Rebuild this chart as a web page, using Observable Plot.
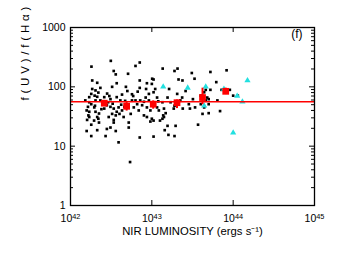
<!DOCTYPE html>
<html>
<head>
<meta charset="utf-8">
<script src="https://cdn.jsdelivr.net/npm/d3@7"></script>
<script src="https://cdn.jsdelivr.net/npm/@observablehq/plot@0.6"></script>
<style>
  html, body { margin: 0; padding: 0; background: #fff; }
  #chart { width: 349px; height: 257px; }
</style>
</head>
<body>
<div id="chart"></div>
<script>
// ---- data ----
const blackLum = [
  1.81e42, 3.13e42, 6.3e42, 7.1e42, 3.4e42, 3.6e42, 5.1e42, 1.85e42, 2.13e42, 1.36e43,
  1.9e43, 2.07e43, 2.13e43, 2.38e43, 3.1e43, 3.35e43, 5.25e43, 6.2e43, 8.3e43, 1.01e43,
  1.05e43, 7.1e42, 8.7e42, 7.1e42, 8.5e42, 3.25e42, 4.8e42, 5.0e42, 3.7e42, 5.7e42,
  2.33e42, 1.85e42, 2.03e42, 1.8e42, 1.98e42, 2.13e42, 1.7e42, 2.82e42, 2.6e42, 3.1e42,
  3.7e42, 4.3e42, 4.1e42, 2.33e42, 2.03e42, 1.7e42, 1.52e42, 1.8e42, 1.64e42, 1.96e42,
  1.58e42, 1.7e42, 2.03e42, 2.24e42, 1.66e42, 2.13e42, 1.6e42, 1.95e42, 2.24e42, 1.8e42,
  1.58e42, 2.13e42, 1.8e42, 2.7e42, 2.8e42, 2.6e42, 3.1e42, 3.4e42, 3.25e42, 2.95e42,
  3.4e42, 3.6e42, 3.7e42, 3.9e42, 4.2e42, 4.3e42, 4.0e42, 4.5e42, 3.4e42, 3.1e42,
  3.6e42, 2.8e42, 3.9e42, 5.2e42, 5.2e42, 5.5e42, 6.0e42, 6.3e42, 5.7e42, 6.6e42,
  7.2e42, 6.9e42, 7.6e42, 8.0e42, 8.7e42, 7.1e42, 5.4e42, 8.4e42, 9.2e42, 8.7e42,
  9.6e42, 1.05e43, 9.2e42, 1.05e43, 1.0e43, 1.1e43, 1.16e43, 1.16e43, 1.22e43, 1.0e43,
  1.05e43, 9.6e42, 1.05e43, 1.35e43, 1.41e43, 1.38e43, 1.35e43, 1.41e43, 1.48e43, 1.56e43,
  1.63e43, 1.56e43, 1.44e43, 1.6e43, 1.9e43, 1.96e43, 1.7e43, 1.86e43, 2.05e43, 2.24e43,
  2.36e43, 2.4e43, 2.6e43, 2.85e43, 2.94e43, 3.2e43, 3.4e43, 3.7e43, 4.0e43, 4.0e43,
  4.2e43, 4.4e43, 4.6e43, 4.8e43, 5.0e43, 5.0e43, 5.0e43, 4.4e43, 4.6e43, 5.25e43,
  6.4e43, 6.9e43, 7.2e43, 9.1e43, 1.0e44, 1.14e44, 1.26e43, 2.2e42, 2.5e42, 2.9e42,
  3.0e42, 2.4e42, 2.0e42, 4.6e42, 4.7e42, 5.9e42, 6.7e42, 2.2e42, 1.7e42, 8.0e42,
  3.3e42, 1.9e43, 1.2e43
];
const blackRatio = [
  219, 274, 225, 257, 185, 162, 166, 128, 117, 203,
  185, 203, 133, 128, 171, 137, 178, 120, 190, 137,
  133, 128, 115, 96, 92, 100, 100, 85, 115, 75,
  96, 92, 87, 76, 71, 68, 67, 77, 67, 62,
  67, 74, 59, 59, 59, 55, 59, 51, 46, 45,
  40, 38, 38, 35.5, 33, 31, 27.7, 27, 25, 23,
  18, 18.6, 14.8, 14.8, 49, 43, 46, 43, 35, 31,
  27.7, 33, 38, 45, 50, 40, 35, 31, 25, 20.6,
  18, 19.5, 11.6, 25, 20.6, 35, 45, 59, 59, 51,
  59, 40, 49, 33, 31, 14, 5.4, 66, 59, 45,
  40, 51, 76, 81, 112, 92, 66, 45, 40, 29,
  27, 26, 14.5, 55, 43, 33, 29, 31, 36, 66,
  92, 22, 18.6, 15.5, 14.8, 22, 55, 43, 76, 59,
  66, 43, 85, 51, 43, 62, 45, 23, 71, 51,
  35, 45, 59, 66, 62, 51, 36, 81, 89, 89,
  59, 39, 89, 89, 71, 71, 27, 80, 52, 55,
  70, 42, 48, 46, 58, 70, 83, 29, 31, 56,
  52, 48, 57
];
const cyanLum   = [1.38e43, 2.76e43, 4.6e43, 4.4e43, 7.7e43, 1.12e44, 1.3e44, 1.0e44, 1.5e44];
const cyanRatio = [100, 96, 100, 48, 92, 70, 56, 16.8, 128];

const binLum   = [2.6e42, 4.9e42, 1.04e43, 2.04e43, 4.2e43, 8.1e43];
const binRatio = [53, 47, 51, 54, 66, 84];
const binLo    = [47, 39, 42, 43, 50, 74];
const binHi    = [59, 55, 58, 60, 95, 95];

const fitLevel = 56;

const xTicks = [1e42, 1e43, 1e44, 1e45];
const xTickLabels = ["10^42", "10^43", "10^44", "10^45"];
const yTicks = [1, 10, 100, 1000];
const yTickLabels = ["1", "10", "100", "1000"];
const xTitle = "NIR LUMINOSITY (ergs s\u207B\u00B9)";
const yTitle = "f(UV)/f(H\u03B1)";
const panelLabel = "(f)";

// ---- layout ----
const width = 349, height = 257;
const mL = 70, mR = 35, mT = 27, mB = 52;
const W = width - mL - mR, H = height - mT - mB;
const majorLen = 5, minorLen = 3;
const yMinor = [];
for (const dec of [1, 10, 100]) for (let k = 2; k <= 9; k++) yMinor.push(k * dec);

const black = d3.range(blackLum.length).map(i => ({x: blackLum[i], y: blackRatio[i]}));
const cyan = d3.range(cyanLum.length).map(i => ({x: cyanLum[i], y: cyanRatio[i]}));
const bins = d3.range(binLum.length).map(i => ({x: binLum[i], y: binRatio[i], lo: binLo[i], hi: binHi[i]}));

const font = "'Liberation Sans', Arial, Helvetica, sans-serif";

const chart = Plot.plot({
  width, height,
  marginLeft: mL, marginRight: mR, marginTop: mT, marginBottom: mB,
  style: {fontFamily: font, fontSize: "10.5px", color: "black", background: "white"},
  x: {type: "log", domain: [1e42, 1e45], axis: null},
  y: {type: "log", domain: [1, 1000], axis: null},
  marks: [
    Plot.dot(black, {x: "x", y: "y", symbol: "square", r: 1.5, fill: "black", stroke: "none"}),
    Plot.dot(cyan, {x: "x", y: "y", symbol: "triangle", r: 2.3, fill: "#22e0e0", stroke: "none"}),
    Plot.ruleY([fitLevel], {stroke: "red", strokeWidth: 1.6}),
    Plot.ruleX(bins, {x: "x", y1: "lo", y2: "hi", stroke: "red", strokeWidth: 2}),
    Plot.dot(bins, {x: "x", y: "y", symbol: "square", r: 3.8, fill: "red", stroke: "none"}),
    // inward ticks
    Plot.tickX(xTicks, {x: d => d, insetTop: H - majorLen, stroke: "black"}),
    Plot.tickX(xTicks, {x: d => d, insetBottom: H - majorLen, stroke: "black"}),
    Plot.tickY(yTicks, {y: d => d, insetRight: W - majorLen, stroke: "black"}),
    Plot.tickY(yTicks, {y: d => d, insetLeft: W - majorLen, stroke: "black"}),
    Plot.tickY(yMinor, {y: d => d, insetRight: W - minorLen, stroke: "black"}),
    Plot.tickY(yMinor, {y: d => d, insetLeft: W - minorLen, stroke: "black"}),
    Plot.frame({stroke: "black", strokeWidth: 1.3}),
    Plot.axisX(xTicks, {tickSize: 0, tickPadding: 9, label: null,
      tickFormat: d => xTickLabels[xTicks.indexOf(d)]}),
    Plot.axisY(yTicks, {tickSize: 0, tickPadding: 5, label: null,
      tickFormat: d => yTickLabels[yTicks.indexOf(d)]}),
    Plot.text([xTitle], {text: d => d, frameAnchor: "bottom", lineAnchor: "middle", dy: 26, fontSize: 11.3}),
    Plot.text([yTitle], {text: d => d, frameAnchor: "left", lineAnchor: "middle", rotate: -90, dx: -45, dy: -16, fontSize: 11.5}),
    Plot.text([panelLabel], {text: d => d, frameAnchor: "top-right", textAnchor: "end", lineAnchor: "top", dx: -12, dy: 2, fontSize: 12})
  ]
});

// superscript exponents in x tick labels
for (const t of chart.querySelectorAll('g[aria-label="x-axis tick label"] text')) {
  const parts = t.textContent.split("^");
  if (parts.length === 2) {
    t.textContent = parts[0];
    const ts = document.createElementNS("http://www.w3.org/2000/svg", "tspan");
    ts.setAttribute("dy", "-0.45em");
    ts.setAttribute("font-size", "0.7em");
    ts.textContent = parts[1];
    t.appendChild(ts);
  }
}
// wide spacing of the rotated y title, as in the reference
for (const t of chart.querySelectorAll('text')) {
  if (t.textContent === yTitle) t.setAttribute("letter-spacing", "3.8px");
}

document.getElementById("chart").appendChild(chart);
</script>
</body>
</html>
